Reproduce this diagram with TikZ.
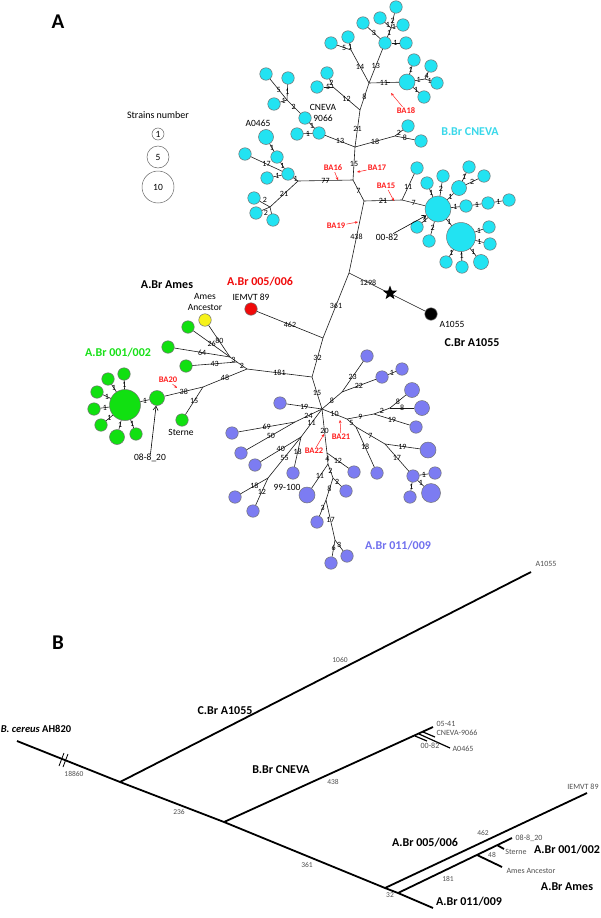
\documentclass[tikz,border=0pt]{standalone}
\usepackage{fontspec}
\setmainfont{Carlito}
\usepackage{xcolor}
\definecolor{CNcyan}{HTML}{22E3F2}
\definecolor{ABgreen}{HTML}{11E011}
\definecolor{ABpurple}{HTML}{7C7CF2}
\definecolor{ABred}{HTML}{F00A0A}
\definecolor{AMyellow}{HTML}{F6F21A}
\definecolor{SNPred}{HTML}{FF1F1F}
\definecolor{CNtext}{HTML}{3AD8EA}
\definecolor{PUtext}{HTML}{7070EE}
\definecolor{GRtext}{HTML}{18E018}
\definecolor{TRgray}{HTML}{505050}
\usetikzlibrary{arrows.meta,shapes.geometric}
\begin{document}
\begin{tikzpicture}[x=1pt,y=-1pt,
  strain/.style={circle,draw=black!55,line width=0.5pt,inner sep=0pt,minimum size=12.5pt},
  cn/.style={strain,fill=CNcyan},
  gr/.style={strain,fill=ABgreen},
  pu/.style={strain,fill=ABpurple},
  edge/.style={draw=black!90,line width=0.6pt},
  num/.style={font=\fontsize{8}{8}\selectfont,inner sep=0.5pt},
  lab/.style={font=\fontsize{9.5}{10.5}\selectfont,inner sep=0pt,align=center},
  grp/.style={font=\bfseries\fontsize{12}{12}\selectfont,inner sep=0pt},
  snp/.style={font=\bfseries\fontsize{8.5}{8.5}\selectfont,text=SNPred,inner sep=1pt},
  snparrow/.style={-{Stealth[length=3pt,width=2.6pt]},draw=SNPred,line width=0.5pt},
  pointer/.style={-{Straight Barb[length=4pt,width=5pt]},draw=black,line width=0.6pt},
  leg/.style={circle,draw=black!60,line width=0.5pt,inner sep=0pt,font=\fontsize{9.5}{9.5}\selectfont},
  tree/.style={line width=1.8pt},
  tnum/.style={font=\fontsize{7.5}{7.5}\selectfont,text=TRgray,inner sep=0pt},
  tlab/.style={font=\fontsize{8}{8}\selectfont,text=TRgray,inner sep=0pt},
  tgrp/.style={font=\bfseries\fontsize{12}{12}\selectfont,inner sep=0pt}]
\useasboundingbox (0,0) rectangle (600,918);
\node[font=\bfseries\fontsize{21}{21}\selectfont] (titleA) at (58,22) {A};
\node[font=\bfseries\fontsize{21}{21}\selectfont] (titleB) at (58,643) {B};
\node[lab,font=\fontsize{10}{10}\selectfont] (legtitle) at (158,115) {Strains number};
\node[leg,minimum size=12pt] (leg1) at (158,134) {1};
\node[leg,minimum size=22pt] (leg5) at (158,157) {5};
\node[leg,minimum size=32pt] (leg10) at (158,187) {10};

\node[cn] (c01) at (396,7) {};
\node[cn] (c02) at (380,18) {};
\node[cn] (c03) at (403,25) {};
\node[cn] (c04) at (363,23) {};
\node[cn] (c05) at (385,43) {};
\node[cn] (c06) at (406,43) {};
\node[cn] (c07) at (348,37) {};
\node[cn] (c08) at (331,43) {};
\node[cn,minimum size=16pt] (c09) at (407,82) {};
\node[cn] (c10) at (414,60) {};
\node[cn] (c11) at (431,66) {};
\node[cn] (c12) at (437,83) {};
\node[cn] (c13) at (424,97) {};
\node[cn] (c14) at (327,73) {};
\node[cn] (c15) at (317,87) {};
\node[cn] (c16) at (408,126) {};
\node[cn] (c17) at (421,141) {};
\node[cn] (c18) at (319,133) {};
\node[cn] (c19) at (297,134) {};
\node[cn] (c20) at (305,118) {};
\node[cn] (c21) at (266,74) {};
\node[cn] (c22) at (288,78) {};
\node[cn] (c23) at (274,104) {};
\node[cn,minimum size=15pt] (c24) at (266,137) {};
\node[cn] (c25) at (277,157) {};
\node[cn] (c26) at (245,154) {};
\node[cn] (c27) at (288,174) {};
\node[cn] (c28) at (267,178) {};
\node[cn] (c29) at (254,198) {};
\node[cn] (c30) at (256,213) {};
\node[cn] (c31) at (273,220) {};
\node[cn] (c32) at (417,168) {};
\node[cn,minimum size=26pt] (cbig1) at (438,209) {};
\node[cn] (c33) at (427,183) {};
\node[cn] (c34) at (443,176) {};
\node[cn,minimum size=15pt] (c35) at (459,188) {};
\node[cn] (c36) at (469,167) {};
\node[cn] (c37) at (484,176) {};
\node[cn] (c38) at (466,206) {};
\node[cn] (c39) at (488,203) {};
\node[cn] (c40) at (509,200) {};
\node[cn] (c41) at (417,227) {};
\node[cn] (c42) at (429,241) {};
\node[cn,minimum size=29pt] (cbig2) at (461,237) {};
\node[cn] (c43) at (489,227) {};
\node[cn] (c44) at (490,244) {};
\node[cn] (c45) at (446,262) {};
\node[cn] (c46) at (462,267) {};
\node[cn,minimum size=15pt] (c47) at (481,262) {};

\node[strain,fill=black] (a1055) at (431,314) {};
\node[strain,fill=ABred] (iemvt) at (251,309) {};
\node[strain,fill=AMyellow] (amesanc) at (205,320) {};
\node[gr] (g01) at (188,327) {};
\node[gr] (g02) at (168,347) {};
\node[gr] (g03) at (186,366) {};
\node[gr,minimum size=15pt] (g04) at (157,398) {};
\node[gr,minimum size=31pt] (gbig) at (125,405) {};
\node[gr] (g05) at (124,374) {};
\node[gr] (g06) at (108,379) {};
\node[gr] (g07) at (97,392) {};
\node[gr] (g08) at (94,409) {};
\node[gr] (g09) at (101,425) {};
\node[gr,minimum size=15pt] (g10) at (117,437) {};
\node[gr] (g11) at (136,434) {};
\node[gr] (sterne) at (182,420) {};

\node[pu] (p01) at (367,356) {};
\node[pu] (p02) at (382,377) {};
\node[pu] (p03) at (402,369) {};
\node[pu] (p04) at (280,403) {};
\node[pu,minimum size=15pt] (p05) at (412,390) {};
\node[pu,minimum size=15pt] (p06) at (422,408) {};
\node[pu] (p07) at (416,427) {};
\node[pu,minimum size=16pt] (p08) at (428,450) {};
\node[pu] (p09) at (413,476) {};
\node[pu] (p10) at (435,473) {};
\node[pu] (p11) at (410,497) {};
\node[pu,minimum size=19pt] (p12) at (431,493) {};
\node[pu] (p13) at (377,473) {};
\node[pu] (p14) at (232,433) {};
\node[pu] (p15) at (241,453) {};
\node[pu] (p16) at (255,465) {};
\node[pu] (p17) at (293,473) {};
\node[pu] (p18) at (235,497) {};
\node[pu] (p19) at (253,511) {};
\node[pu] (p20) at (354,472) {};
\node[pu,minimum size=16pt] (p21) at (307,495) {};
\node[pu] (p22) at (346,491) {};
\node[pu] (p23) at (317,522) {};
\node[pu] (p24) at (331,563) {};
\node[pu] (p25) at (347,556) {};

\coordinate (jc0) at (349,273);
\coordinate (jc1) at (364,201);
\coordinate (jc2) at (353,180);
\coordinate (jc3) at (402,200);
\coordinate (jc4) at (298,181);
\coordinate (jc5) at (355,147);
\coordinate (jc6) at (270,207);
\coordinate (jc7) at (395,136);
\coordinate (jc8) at (360,110);
\coordinate (jc9) at (333,87);
\coordinate (jc10) at (369,83);
\coordinate (jc11) at (351,50);
\coordinate (jc12) at (391,28);
\coordinate (jc13) at (425,79);
\coordinate (jc14) at (287,100);
\coordinate (jm1) at (323,338);
\coordinate (jm2) at (312,377);
\coordinate (ja1) at (247,369);
\coordinate (ja2) at (237,362);
\coordinate (ja3) at (230,357);
\coordinate (js) at (203,387);
\coordinate (jh) at (322,409);
\coordinate (jp1) at (342,392);
\coordinate (jp2) at (347,419);
\coordinate (jp3) at (374,414);
\coordinate (jp4) at (390,408);
\coordinate (jp5) at (356,427);
\coordinate (jp6) at (385,444);
\coordinate (jp7) at (295,422);
\coordinate (jp8) at (301,437);
\coordinate (jp9) at (268,478);
\coordinate (jq1) at (327,453);
\coordinate (jq2) at (328,464);
\coordinate (jq3) at (333,478);
\coordinate (jq4) at (326,500);
\coordinate (jq5) at (335,540);

\draw[edge] (c01) -- node[num]{2} (jc12);
\draw[edge] (c02) -- node[num]{1} (jc12);
\draw[edge] (c03) -- node[num]{1} (jc12);
\draw[edge] (jc12) -- node[num]{1} (c05);
\draw[edge] (c04) -- node[num]{3} (c05);
\draw[edge] (c06) -- node[num]{1} (c05);
\draw[edge] (c05) -- node[num]{13} (jc10);
\draw[edge] (c07) -- node[num]{1} (jc11);
\draw[edge] (c08) -- node[num]{5} (jc11);
\draw[edge] (jc11) -- node[num]{14} (jc10);
\draw[edge] (jc10) -- node[num]{11} (c09);
\draw[edge] (c09) -- node[num]{1} (c10);
\draw[edge] (c09) -- node[num,pos=0.35]{1} (jc13);
\draw[edge] (jc13) -- node[num]{4} (c11);
\draw[edge] (jc13) -- node[num,pos=0.8]{1} (c12);
\draw[edge] (c09) -- node[num]{1} (c13);
\draw[edge] (jc10) -- node[num]{8} (jc8);
\draw[edge] (jc8) -- node[num]{12} (jc9);
\draw[edge] (jc9) -- node[num]{2} (c14);
\draw[edge] (jc9) -- node[num]{5} (c15);
\draw[edge] (jc8) -- node[num]{21} (jc5);
\draw[edge] (jc5) -- node[num]{13} (c18);
\draw[edge] (c18) -- node[num]{1} (c19);
\draw[edge] (c18) -- node[num]{1} (c20);
\draw[edge] (c20) -- node[num]{2} (jc14);
\draw[edge] (jc14) -- node[num]{5} (c21);
\draw[edge] (jc14) -- node[num]{1} (c22);
\draw[edge] (jc14) -- node[num]{1} (c23);
\draw[edge] (jc5) -- node[num]{18} (jc7);
\draw[edge] (jc7) -- node[num]{2} (c16);
\draw[edge] (jc7) -- node[num]{8} (c17);
\draw[edge] (jc5) -- node[num]{15} (jc2);
\draw[edge] (jc2) -- node[num]{77} (jc4);
\draw[edge] (jc4) -- node[num]{1} (c27);
\draw[edge] (c27) -- node[num]{1} (c28);
\draw[edge] (c27) -- node[num]{17} (c26);
\draw[edge] (c27) -- node[num]{1} (c25);
\draw[edge] (c25) -- node[num]{1} (c24);
\draw[edge] (jc4) -- node[num]{21} (jc6);
\draw[edge] (jc6) -- node[num,above=0.5pt]{2} (c29);
\draw[edge] (jc6) -- node[num,below=0.5pt]{2} (c30);
\draw[edge] (jc6) -- (c31);
\draw[edge] (jc2) -- node[num]{7} (jc1);
\draw[edge] (jc1) -- node[num]{21} (jc3);
\draw[edge] (jc3) -- node[num]{11} (c32);
\draw[edge] (jc3) -- node[num]{7} (cbig1);
\draw[edge] (jc1) -- node[num]{438} (jc0);
\draw[edge] (cbig1) -- node[num]{1} (c33);
\draw[edge] (cbig1) -- node[num]{2} (c34);
\draw[edge] (cbig1) -- node[num]{1} (c35);
\draw[edge] (c35) -- node[num]{1} (c36);
\draw[edge] (c35) -- node[num]{2} (c37);
\draw[edge] (cbig1) -- node[num]{1} (c38);
\draw[edge] (c38) -- node[num]{1} (c39);
\draw[edge] (c39) -- node[num]{1} (c40);
\draw[edge] (cbig1) -- node[num]{1} (c41);
\draw[edge] (cbig1) -- node[num]{2} (c42);
\draw[edge] (cbig1) -- node[num]{1} (cbig2);
\draw[edge] (cbig2) -- node[num]{1} (c43);
\draw[edge] (cbig2) -- node[num]{1} (c44);
\draw[edge] (cbig2) -- node[num]{1} (c45);
\draw[edge] (cbig2) -- node[num]{1} (c46);
\draw[edge] (cbig2) -- node[num]{1} (c47);

\draw[edge] (jc0) -- node[num,pos=0.25]{1298} (a1055);
\node[star,star points=5,star point ratio=2.4,fill=black,inner sep=0pt,minimum size=15pt] (snpstar) at (390,293) {};
\draw[edge] (jc0) -- node[num]{361} (jm1);
\draw[edge] (jm1) -- node[num]{462} (iemvt);
\draw[edge] (jm1) -- node[num]{32} (jm2);
\draw[edge] (jm2) -- node[num]{181} (ja1);
\draw[edge] (ja1) -- node[num]{2} (ja2);
\draw[edge] (ja2) -- node[num]{3} (ja3);
\draw[edge] (ja3) -- node[num]{80} (amesanc);
\draw[edge] (ja3) -- node[num]{26} (g01);
\draw[edge] (ja3) -- node[num]{64} (g02);
\draw[edge] (ja2) -- node[num]{43} (g03);
\draw[edge] (ja1) -- node[num]{48} (js);
\draw[edge] (js) -- node[num]{38} (g04);
\draw[edge] (js) -- node[num]{15} (sterne);
\draw[edge] (g04) -- node[num]{1} (gbig);
\draw[edge] (gbig) -- node[num]{1} (g05);
\draw[edge] (gbig) -- node[num]{1} (g06);
\draw[edge] (gbig) -- node[num]{1} (g07);
\draw[edge] (gbig) -- node[num]{1} (g08);
\draw[edge] (gbig) -- node[num]{1} (g09);
\draw[edge] (gbig) -- node[num]{1} (g10);
\draw[edge] (gbig) -- node[num]{1} (g11);

\draw[edge] (jm2) -- node[num]{15} (jh);
\draw[edge] (jh) -- node[num]{8} (jp1);
\draw[edge] (jp1) -- node[num]{23} (p01);
\draw[edge] (jp1) -- node[num]{22} (p02);
\draw[edge] (p02) -- node[num]{1} (p03);
\draw[edge] (jh) -- node[num]{19} (p04);
\draw[edge] (jh) -- node[num]{10} (jp2);
\draw[edge] (jp2) -- node[num]{9} (jp3);
\draw[edge] (jp3) -- node[num]{2} (jp4);
\draw[edge] (jp4) -- node[num]{8} (p05);
\draw[edge] (jp4) -- node[num]{8} (p06);
\draw[edge] (jp3) -- node[num]{19} (p07);
\draw[edge] (jp2) -- node[num]{5} (jp5);
\draw[edge] (jp5) -- node[num]{7} (jp6);
\draw[edge] (jp6) -- node[num]{19} (p08);
\draw[edge] (jp6) -- node[num]{17} (p09);
\draw[edge] (p09) -- node[num]{1} (p10);
\draw[edge] (p09) -- node[num]{1} (p11);
\draw[edge] (p09) -- node[num]{1} (p12);
\draw[edge] (jp5) -- node[num]{18} (p13);
\draw[edge] (jh) -- node[num]{24} (jp7);
\draw[edge] (jp7) -- node[num]{69} (p14);
\draw[edge] (jp7) -- node[num]{50} (p15);
\draw[edge] (jh) -- node[num]{11} (jp8);
\draw[edge] (jp8) -- node[num]{40} (p16);
\draw[edge] (jp8) -- node[num]{55} (jp9);
\draw[edge] (jp8) -- node[num]{18} (p17);
\draw[edge] (jp9) -- node[num]{18} (p18);
\draw[edge] (jp9) -- node[num]{12} (p19);
\draw[edge] (jh) -- node[num]{20} (jq1);
\draw[edge] (jq1) -- node[num]{12} (p20);
\draw[edge] (jq1) -- node[num]{4} (jq2);
\draw[edge] (jq2) -- node[num]{11} (p21);
\draw[edge] (jq2) -- node[num]{2} (jq3);
\draw[edge] (jq3) -- node[num]{2} (p22);
\draw[edge] (jq3) -- node[num]{8} (jq4);
\draw[edge] (jq4) -- node[num]{3} (p23);
\draw[edge] (jq4) -- node[num]{17} (jq5);
\draw[edge] (jq5) -- node[num]{6} (p24);
\draw[edge] (jq5) -- node[num]{3} (p25);

\node[lab] (lcneva) at (323,113) {CNEVA\\9066};
\node[lab] (la0465) at (258,123) {A0465};
\node[lab] (l0082) at (387,237) {00-82};
\node[lab] (liemvt) at (251,297) {IEMVT 89};
\node[lab] (lamesanc) at (205,302) {Ames\\Ancestor};
\node[lab] (lsterne) at (181,432) {Sterne};
\node[lab] (l08820) at (150,458) {08-8\_20};
\node[lab] (l99100) at (287,487) {99-100};
\node[lab] (la1055) at (452,324) {A1055};
\draw[pointer] (l0082) -- (cbig1);
\draw[pointer] (l08820) -- (g04);

\node[grp,text=CNtext] (gcneva) at (470,132) {B.Br CNEVA};
\node[grp,text=ABred] (g0506) at (260,282) {A.Br 005/006};
\node[grp] (games) at (167,285) {A.Br Ames};
\node[grp,text=GRtext] (g0102) at (118,353) {A.Br 001/002};
\node[grp] (gc1055) at (472,343) {C.Br A1055};
\node[grp,text=PUtext] (g0109) at (398,546) {A.Br 011/009};

\node[snp] (ba18) at (406,111) {BA18};
\node[snp] (ba16) at (333,168) {BA16};
\node[snp] (ba17) at (377,168) {BA17};
\node[snp] (ba15) at (386,186) {BA15};
\node[snp] (ba19) at (336,226) {BA19};
\node[snp] (ba20) at (168,380) {BA20};
\node[snp] (ba21) at (341,437) {BA21};
\node[snp] (ba22) at (314,451) {BA22};
\coordinate (t18) at (391,93);
\coordinate (t16) at (338,180);
\coordinate (t17) at (357,172);
\coordinate (t15) at (394,201);
\coordinate (t19) at (358,222);
\coordinate (t20) at (177,388);
\coordinate (t21) at (340,420);
\coordinate (t22) at (324,434);
\draw[snparrow] (ba18) -- (t18);
\draw[snparrow] (ba16) -- (t16);
\draw[snparrow] (ba17) -- (t17);
\draw[snparrow] (ba15) -- (t15);
\draw[snparrow] (ba19) -- (t19);
\draw[snparrow] (ba20) -- (t20);
\draw[snparrow] (ba21) -- (t21);
\draw[snparrow] (ba22) -- (t22);

\coordinate (broot) at (17,741);
\coordinate (bn1) at (120,782);
\coordinate (btipc) at (531,572);
\coordinate (bn2) at (224,822);
\coordinate (btipb) at (433,727);
\coordinate (bn3) at (385,888);
\coordinate (btipie) at (587,793);
\coordinate (bn4) at (398,893);
\coordinate (btip11) at (433,908);
\coordinate (btip0820) at (512,838);
\coordinate (bn5) at (477,855);
\coordinate (btipam) at (502,867);
\coordinate (bn6) at (497,845);
\coordinate (btipst) at (504,849);
\coordinate (bn7) at (423,732);
\coordinate (btip9066) at (435,737);
\coordinate (bn8) at (415,736);
\coordinate (btip0082) at (427,741);
\coordinate (bn9) at (419,734);
\coordinate (btip0465) at (450,748);
\draw[tree] (broot) -- (bn1) -- (bn2) -- (bn3) -- (bn4) -- (btip11);
\draw[tree] (bn1) -- (btipc);
\draw[tree] (bn2) -- (btipb);
\draw[tree] (bn3) -- (btipie);
\draw[tree] (bn4) -- (btip0820);
\draw[tree] (bn5) -- (btipam);
\draw[tree] (bn6) -- (btipst);
\draw[tree,line width=1.2pt] (bn7) -- (btip9066);
\draw[tree,line width=1.2pt] (bn8) -- (btip0082);
\draw[tree,line width=1.2pt] (bn9) -- (btip0465);
\coordinate (brk1a) at (59,766);
\coordinate (brk1b) at (64,753);
\coordinate (brk2a) at (63,767);
\coordinate (brk2b) at (68,754);
\draw[line width=0.8pt] (brk1a) -- (brk1b);
\draw[line width=0.8pt] (brk2a) -- (brk2b);

\node[font=\bfseries\fontsize{10.5}{10.5}\selectfont,inner sep=0pt] (bcereus) at (36,729) {\textit{B. cereus} AH820};
\node[tnum] (b18860) at (74,774) {18860};
\node[tnum] (b236) at (179,812) {236};
\node[tnum] (b1060) at (340,660) {1060};
\node[tnum] (b438) at (333,782) {438};
\node[tnum] (b361) at (307,865) {361};
\node[tnum] (b32) at (390,895) {32};
\node[tnum] (b462) at (483,833) {462};
\node[tnum] (b181) at (448,879) {181};
\node[tnum] (b48) at (492,855) {48};
\node[tlab] (ba1055) at (546,564) {A1055};
\node[tlab] (b0541) at (446,724) {05-41};
\node[tlab] (b9066) at (457,733) {CNEVA-9066};
\node[tlab] (b0082) at (430,746) {00-82};
\node[tlab] (b0465) at (463,749) {A0465};
\node[tlab] (biemvt) at (583,787) {IEMVT 89};
\node[tlab] (b0820) at (529,838) {08-8\_20};
\node[tlab] (bsterne) at (516,852) {Sterne};
\node[tlab] (bamesanc) at (531,871) {Ames Ancestor};
\node[tgrp] (bgc) at (225,711) {C.Br A1055};
\node[tgrp] (bgb) at (281,770) {B.Br CNEVA};
\node[tgrp] (bg0506) at (425,843) {A.Br 005/006};
\node[tgrp] (bg0102) at (567,850) {A.Br 001/002};
\node[tgrp] (bgames) at (567,887) {A.Br Ames};
\node[tgrp] (bg0109) at (469,902) {A.Br 011/009};
\end{tikzpicture}
\end{document}
